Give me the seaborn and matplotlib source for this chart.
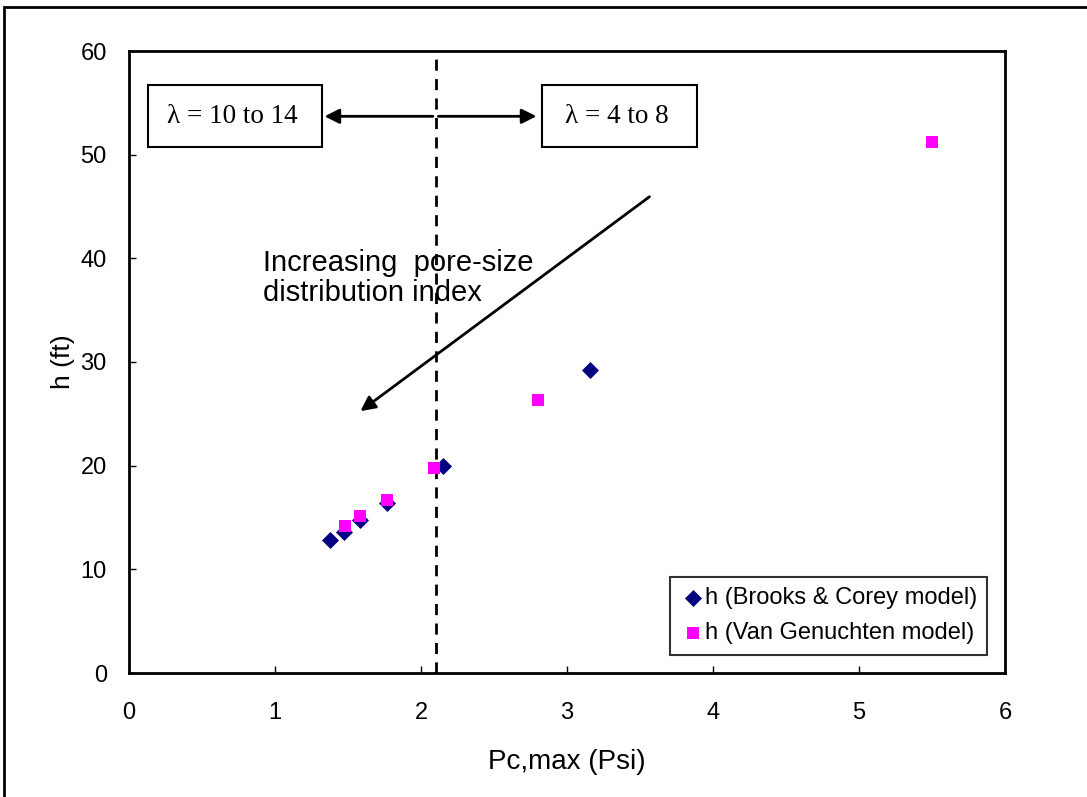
import matplotlib
matplotlib.use("Agg")
import matplotlib.pyplot as plt
import seaborn as sns
import pandas as pd
from matplotlib.patches import Rectangle

bc_x = [1.38, 1.47, 1.58, 1.77, 2.15, 3.16]
bc_h = [12.8, 13.6, 14.8, 16.4, 20.0, 29.2]
vg_x = [1.48, 1.58, 1.77, 2.09, 2.80, 5.50]
vg_h = [14.2, 15.1, 16.7, 19.8, 26.3, 51.2]
labels = ["h (Brooks & Corey model)", "h (Van Genuchten model)"]
x_ticks = [0, 1, 2, 3, 4, 5, 6]
y_ticks = [0, 10, 20, 30, 40, 50, 60]

sns.set_theme(style="white")
plt.rcParams['font.family'] = ['Liberation Sans', 'DejaVu Sans']
plt.rcParams['text.color'] = 'black'

fig = plt.figure(figsize=(10.87, 7.97), dpi=100)
ax = fig.add_axes([129/1087, 1-673/797, (1005-129)/1087, (673-51)/797])

df_bc = pd.DataFrame({"x": bc_x, "h": bc_h})
df_vg = pd.DataFrame({"x": vg_x, "h": vg_h})
sns.scatterplot(data=df_bc, x="x", y="h", marker="D", s=75, color="#000080",
                edgecolor="#000080", linewidth=0, label=labels[0], ax=ax, zorder=4)
sns.scatterplot(data=df_vg, x="x", y="h", marker="s", s=75, color="#FF00FF",
                edgecolor="#FF00FF", linewidth=0, label=labels[1], ax=ax, zorder=5)

ax.set_xlim(0, 6)
ax.set_ylim(0, 60)
ax.set_xticks(x_ticks)
ax.set_yticks(y_ticks)
ax.tick_params(axis="both", direction="in", length=5, width=1, colors="black",
               labelcolor="black", labelsize=17, bottom=True, left=True)
ax.tick_params(axis="x", pad=21)
ax.tick_params(axis="y", pad=16)
for sp in ax.spines.values():
    sp.set_color("black")
    sp.set_linewidth(2)
ax.set_xlabel("Pc,max (Psi)", fontsize=20, labelpad=18, color="black")
ax.set_ylabel("h (ft)", fontsize=19, labelpad=4, color="black")

# dashed divider
ax.axvline(2.1, color="black", linestyle=(0, (4, 3)), linewidth=2, zorder=3)

# double arrow
ax.annotate("", xy=(1.32, 53.7), xytext=(2.1, 53.7),
            arrowprops=dict(arrowstyle="-|>", color="black", lw=2, mutation_scale=22))
ax.annotate("", xy=(2.81, 53.7), xytext=(2.1, 53.7),
            arrowprops=dict(arrowstyle="-|>", color="black", lw=2, mutation_scale=22))

# boxes
ax.add_patch(Rectangle((0.13, 50.7), 1.19, 6.0, fill=False, edgecolor="black", lw=1.5, zorder=6))
ax.add_patch(Rectangle((2.83, 50.7), 1.06, 6.0, fill=False, edgecolor="black", lw=1.5, zorder=6))
ax.text(0.71, 53.7, "λ = 10 to 14", ha="center", va="center", fontsize=19.5,
        family=["Liberation Serif", "DejaVu Serif"], color="black")
ax.text(3.34, 53.7, "λ = 4 to 8", ha="center", va="center", fontsize=19.5,
        family=["Liberation Serif", "DejaVu Serif"], color="black")

# diagonal arrow
ax.annotate("", xy=(1.57, 25.1), xytext=(3.58, 46.1),
            arrowprops=dict(arrowstyle="-|>", color="black", lw=2, mutation_scale=22))
ax.text(0.92, 40.9, "Increasing  pore-size\ndistribution index", ha="left", va="top",
        fontsize=21, color="black", linespacing=1.08)

leg = ax.legend(loc="lower right", bbox_to_anchor=(0.98, 0.029), fontsize=17,
                frameon=True, fancybox=False, handletextpad=0.0, borderpad=0.45,
                labelspacing=0.55, handlelength=1.0, borderaxespad=0)
leg.get_frame().set_edgecolor("black")
leg.get_frame().set_linewidth(1.5)

# outer frame
fig.patches.append(Rectangle((4/1087, -0.1), 1.2, 1.1 - 7/797, transform=fig.transFigure,
                             fill=False, edgecolor="black", lw=2))

fig.savefig("out.png", dpi=100)
